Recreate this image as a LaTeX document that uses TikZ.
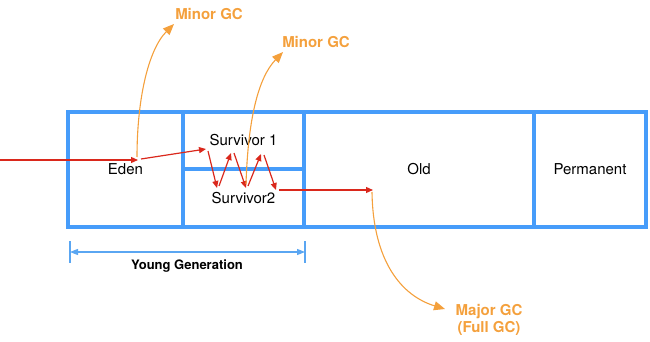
\documentclass[tikz,border=0pt]{standalone}
\usepackage{fontspec}
\setmainfont{TeX Gyre Heros}
\usetikzlibrary{arrows.meta}
\definecolor{memblue}{RGB}{70,156,250}
\definecolor{gcorange}{RGB}{244,160,60}
\definecolor{flowred}{RGB}{218,40,28}
\definecolor{dimblue}{RGB}{90,166,242}
\begin{document}
\begin{tikzpicture}[x=1pt,y=-1pt,
  region/.style={draw=memblue,line width=3.6pt,inner sep=0pt,font=\fontsize{15}{18}\selectfont},
  flow/.style={draw=flowred,line width=1.2pt,-{Triangle[length=7pt,width=6pt]}},
  gcarrow/.style={draw=gcorange,line width=1.1pt,-{Triangle[length=11pt,width=9pt]}},
  gclabel/.style={text=gcorange,font=\bfseries\fontsize{15}{18}\selectfont,inner sep=0pt,anchor=base},
  dimline/.style={draw=dimblue,line width=1.1pt}]
\useasboundingbox (0,0) rectangle (650,342);
% memory regions
\node[region, minimum width=115pt, minimum height=115pt] (eden) at (125.5,169.5) {Eden};
\node[region, minimum width=121pt, minimum height=57pt] (surv1) at (243.5,140.5) {Survivor 1};
\node[region, minimum width=121pt, minimum height=58pt] (surv2) at (243.5,198) {Survivor2};
\node[region, minimum width=230pt, minimum height=115pt] (old) at (419,169.5) {Old};
\node[region, minimum width=112pt, minimum height=115pt] (perm) at (590,169.5) {Permanent};
% flow coordinates
\coordinate (in) at (0,160);
\coordinate (e1) at (138,160);
\coordinate (e2) at (141,159);
\coordinate (s1a) at (206,149);
\coordinate (z0) at (208,151);
\coordinate (z1) at (217,188);
\coordinate (z2) at (219,186);
\coordinate (z3) at (231,153);
\coordinate (z4) at (234,153);
\coordinate (z5) at (246,188);
\coordinate (z6) at (248,186);
\coordinate (z7) at (261,154);
\coordinate (z8) at (264,155);
\coordinate (z9) at (276,190);
\coordinate (o0) at (279,190);
\coordinate (o1) at (373,190);
% red flow arrows
\draw[flow] (in) -- (e1);
\draw[flow] (e2) -- (s1a);
\draw[flow] (z0) -- (z1);
\draw[flow] (z2) -- (z3);
\draw[flow] (z4) -- (z5);
\draw[flow] (z6) -- (z7);
\draw[flow] (z8) -- (z9);
\draw[flow] (o0) -- (o1);
% GC labels
\node[gclabel] (minor1) at (209,20) {Minor GC};
\node[gclabel] (minor2) at (316,48) {Minor GC};
\node[gclabel] (major) at (489,315) {Major GC};
\node[gclabel] (full) at (489,332) {(Full GC)};
\coordinate (g1s) at (137,157);
\coordinate (g1e) at (174,24);
\coordinate (g2s) at (246,184);
\coordinate (g2e) at (283,52);
\coordinate (g3s) at (372,192);
\coordinate (g3e) at (445,309);
\draw[gcarrow] (g1s) .. controls (137,100) and (148,50) .. (g1e);
\draw[gcarrow] (g2s) .. controls (248,120) and (258,78) .. (g2e);
\draw[gcarrow] (g3s) .. controls (373,262) and (402,296) .. (g3e);
% young generation dimension
\coordinate (yl) at (70,252);
\coordinate (yr) at (305,252);
\coordinate (ylt) at (70,241);
\coordinate (ylb) at (70,263);
\coordinate (yrt) at (305,241);
\coordinate (yrb) at (305,263);
\draw[dimline] (ylt) -- (ylb);
\draw[dimline] (yrt) -- (yrb);
\draw[dimline,{Triangle[length=8pt,width=6pt]}-{Triangle[length=8pt,width=6pt]}] (yl) -- (yr);
\node[font=\bfseries\fontsize{13}{15}\selectfont,inner sep=0pt,anchor=base] (young) at (187,269) {Young Generation};
\end{tikzpicture}
\end{document}
